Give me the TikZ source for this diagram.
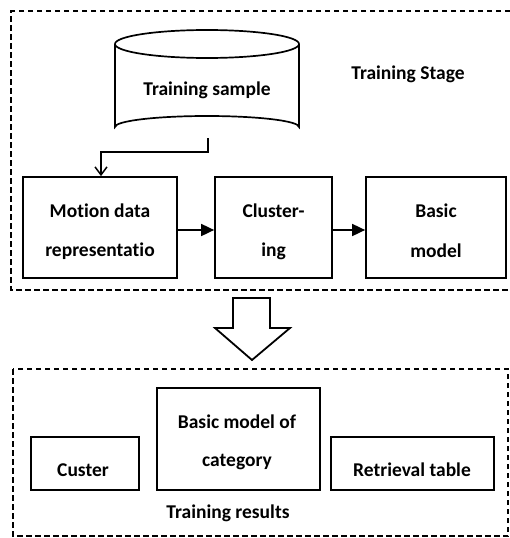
\documentclass[tikz,border=0pt]{standalone}
\usepackage{fontspec}
\setmainfont{Carlito}[Ligatures=NoCommon]
\usetikzlibrary{arrows.meta}
\begin{document}
\begin{tikzpicture}[x=1pt,y=-1pt,
  every node/.style={font=\bfseries\fontsize{19.5}{22}\selectfont, inner sep=0pt},
  dbox/.style={draw, line width=1.5pt, dash pattern=on 5.5pt off 3.5pt},
  bbox/.style={draw, line width=1.7pt},
  txt/.style={align=center}]
\useasboundingbox (0,0) rectangle (510,538);
% top dashed frame (right side cut off)
\draw[dbox] (510,11) -- (11,11) -- (11,290) -- (510,290);
% cylinder
\draw[line width=1.7pt] (115,44) -- (115,127) arc[start angle=180,end angle=360,x radius=92,y radius=11] -- (299,44);
\draw[line width=1.7pt] (207,44) ellipse[x radius=92,y radius=14];
\node[txt] (cyl) at (207,90) {Training sample};
\coordinate (cylb) at (208,138);
\node (stage) at (408,74) {Training Stage};
% boxes
\node[bbox, minimum width=154pt, minimum height=101pt] (mdr) at (100,227.5) {};
\node[txt] at (100,211) {Motion data};
\node[txt] at (100,251) {representatio};
\node[bbox, minimum width=117pt, minimum height=101pt] (clu) at (273.5,227.5) {};
\node[txt] at (273.5,211) {Cluster-};
\node[txt] at (273.5,251) {ing};
\node[bbox, minimum width=140pt, minimum height=101pt] (bm) at (436,227.5) {};
\node[txt] at (436,211) {Basic};
\node[txt] at (436,251) {model};
% connectors
\draw[line width=1.5pt, -{Straight Barb[length=8pt,width=12pt,line width=1.5pt]}] (cylb) -- (208,152) -- (101,152) -- (mdr.north -| 101,0);
\draw[line width=1.7pt, -{Triangle[length=13pt,width=12pt]}] (mdr.east |- 0,230) -- (clu.west |- 0,230);
\draw[line width=1.7pt, -{Triangle[length=13pt,width=12pt]}] (clu.east |- 0,230) -- (bm.west |- 0,230);
% big hollow arrow
\draw[line width=1.8pt, line join=miter] (233,298) -- (270,298) -- (270,328) -- (290,328) -- (252,360) -- (215,328) -- (233,328) -- cycle;
% bottom dashed frame
\draw[dbox] (13,369) rectangle (508,536);
\node[bbox, minimum width=108pt, minimum height=53pt] (cus) at (85,463.5) {};
\node at (83,470) {Custer};
\node[bbox, minimum width=163pt, minimum height=102pt] (bmc) at (238.5,439) {};
\node at (237,422) {Basic model of};
\node at (237,462) {category};
\node[bbox, minimum width=163pt, minimum height=53pt] (ret) at (412.5,463.5) {};
\node at (412,470) {Retrieval table};
\node (res) at (228,513) {Training results};
\end{tikzpicture}
\end{document}
